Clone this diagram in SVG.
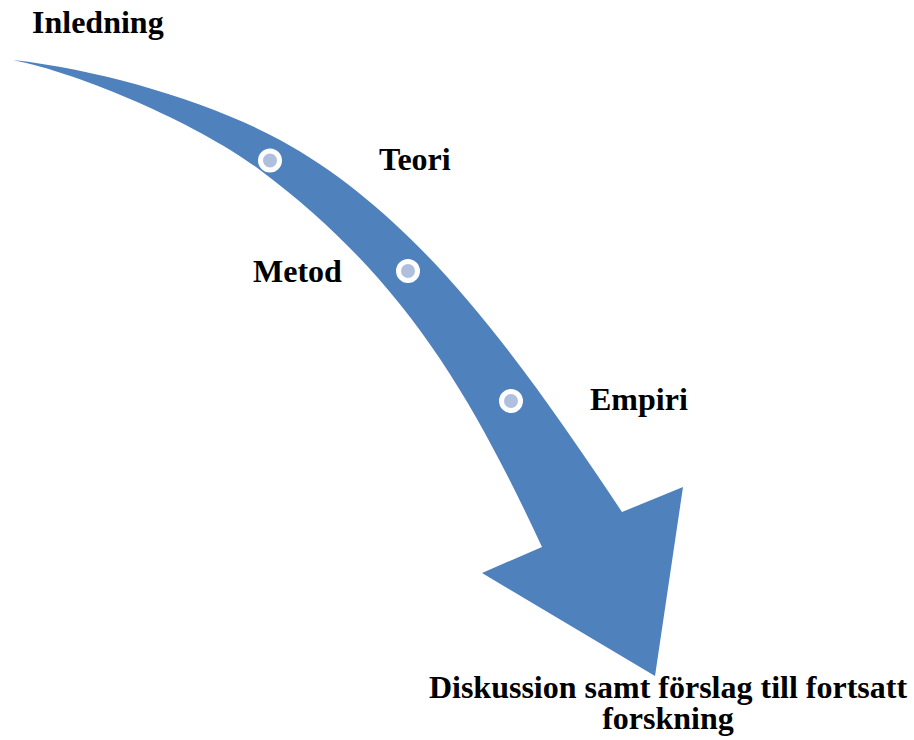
<svg xmlns="http://www.w3.org/2000/svg" width="914" height="740" viewBox="0 0 914 740">
<style>
.lbl{font-family:"Liberation Serif","Times New Roman",serif;font-weight:bold;font-size:32px;fill:#000}
.dot{fill:#AFC0DE;stroke:#FFFFFF;stroke-width:5}
</style>
<rect width="914" height="740" fill="#FFFFFF"/>
<g id="connectors">
<path id="arrow" fill="#4F81BD" d="M13,60 C103,70 210,102 280,140 C415,214 512,347 622,512 L683,487 L655,676 L482,573 L542,547 C468,388 400,275 260,170 C200,125 83,74 13,60 Z"/>
</g>
<g id="inledning"><text class="lbl" x="32" y="33">Inledning</text></g>
<g id="teori"><circle class="dot" cx="270" cy="160.5" r="9.5"/><text class="lbl" x="379" y="170">Teori</text></g>
<g id="metod"><circle class="dot" cx="408" cy="271" r="9.5"/><text class="lbl" x="253" y="282">Metod</text></g>
<g id="empiri"><circle class="dot" cx="511" cy="401" r="9.5"/><text class="lbl" x="590" y="410">Empiri</text></g>
<g id="diskussion"><text class="lbl" text-anchor="middle"><tspan x="668" y="698">Diskussion samt förslag till fortsatt</tspan><tspan x="668" y="729">forskning</tspan></text></g>
</svg>
